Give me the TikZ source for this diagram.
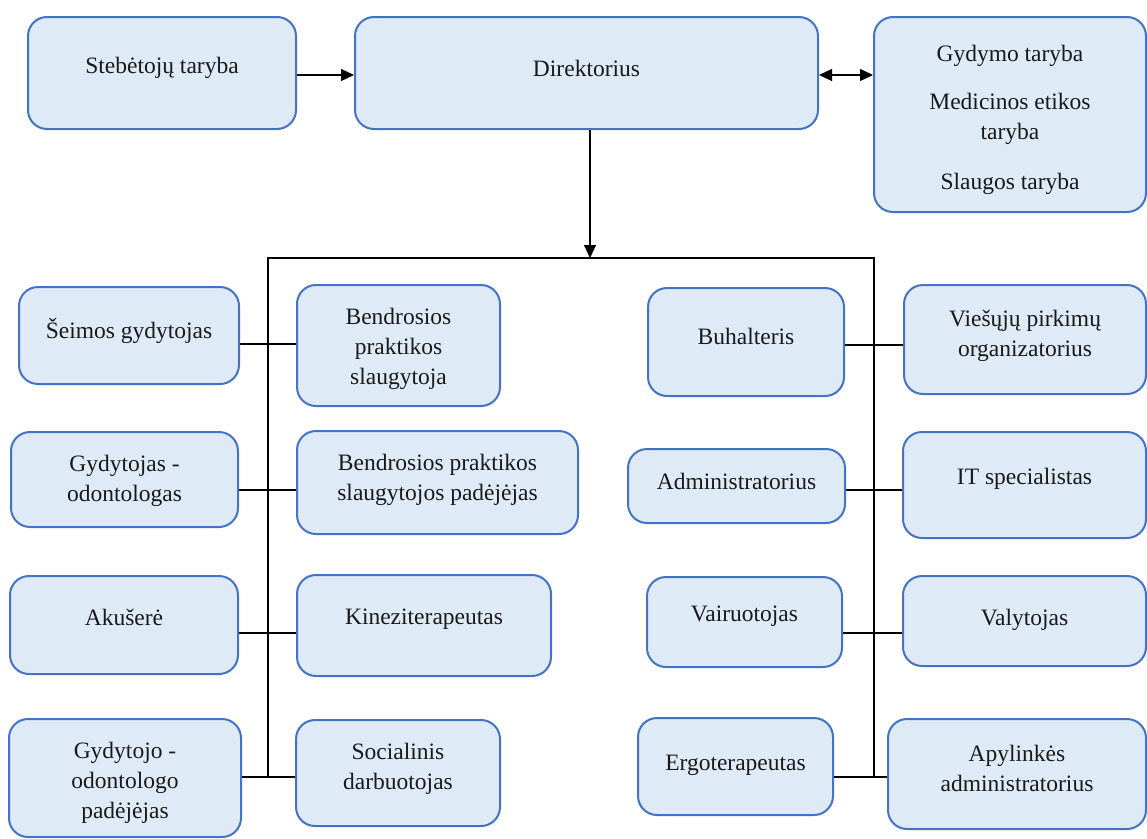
\documentclass[tikz,border=0pt]{standalone}
\usepackage{fontspec}
\setmainfont{Liberation Serif}
\usetikzlibrary{arrows.meta}
\definecolor{boxfill}{HTML}{DEEBF7}
\definecolor{boxline}{HTML}{4472C4}
\tikzset{
  orgbox/.style={draw=boxline, fill=boxfill, line width=2pt, rounded corners=19pt, inner sep=0pt, rectangle},
  orgtext/.style={font=\fontsize{23.5}{30}\selectfont, align=center, inner sep=0pt, text=black!90, yshift=-3pt},
  conn/.style={draw=black, line width=1.2pt},
  tip/.style={-{Triangle[length=13pt,width=12pt]}},
  dtip/.style={{Triangle[length=13pt,width=12pt]}-{Triangle[length=13pt,width=12pt]}}
}
\newcommand\obox[7]{%
  \node[orgbox, minimum width={#4-#2}, minimum height={#5-#3}] (#1) at ({(#2+#4)/2},{(#3+#5)/2}) {};
  \node[orgtext] (#1-t) at ({(#2+#4)/2},#6) {#7};
}
\begin{document}
\begin{tikzpicture}[x=1pt,y=-1pt]
\useasboundingbox (0,0) rectangle (1147,838);
% top row
\obox{steb}{28}{17}{296}{129}{65}{Stebėtojų taryba}
\obox{dir}{355}{17}{818}{129}{65}{Direktorius}
\obox{tar}{874}{17}{1146}{212}{117}{Gydymo taryba\\[18pt]Medicinos etikos\\taryba\\[20pt]Slaugos taryba}
% left columns
\obox{seim}{19}{287}{239}{384}{328}{Šeimos gydytojas}
\obox{bpa}{297}{285}{500}{406}{346}{Bendrosios\\praktikos\\slaugytoja}
\obox{god}{11}{432}{238}{527}{478}{Gydytojas -\\odontologas}
\obox{bpb}{297}{431}{578}{534}{477}{Bendrosios praktikos\\slaugytojos padėjėjas}
\obox{aku}{10}{576}{238}{674}{614}{Akušerė}
\obox{kin}{297}{575}{551}{676}{616}{Kineziterapeutas}
\obox{gop}{9}{719}{241}{837}{780}{Gydytojo -\\odontologo\\padėjėjas}
\obox{soc}{296}{720}{500}{826}{766}{Socialinis\\darbuotojas}
% right columns
\obox{buh}{648}{288}{844}{396}{333}{Buhalteris}
\obox{vie}{904}{285}{1146}{394}{333}{Viešųjų pirkimų\\organizatorius}
\obox{adm}{628}{449}{845}{523}{478}{Administratorius}
\obox{it}{903}{432}{1146}{538}{476}{IT specialistas}
\obox{vai}{647}{577}{842}{667}{613}{Vairuotojas}
\obox{val}{903}{576}{1146}{666}{617}{Valytojas}
\obox{erg}{638}{718}{833}{815}{762}{Ergoterapeutas}
\obox{apy}{888}{719}{1146}{829}{765}{Apylinkės\\administratorius}
% bus coordinates
\coordinate (top) at (590,258);
\coordinate (L0) at (268,258);
\coordinate (R0) at (874,258);
\coordinate (L1) at (268,344);
\coordinate (L2) at (268,490);
\coordinate (L3) at (268,633);
\coordinate (L4) at (268,777);
\coordinate (R1) at (874,345);
\coordinate (R2) at (874,490);
\coordinate (R3) at (874,633);
\coordinate (R4) at (874,777);
\coordinate (ha) at (0,75);
% connectors
\draw[conn,tip] (steb.east |- ha) -- (dir.west |- ha);
\draw[conn,dtip] (dir.east |- ha) -- (tar.west |- ha);
\draw[conn,tip] (dir.south -| top) -- (top);
\draw[conn] (L4) -- (L0) -- (R0) -- (R4);
\draw[conn] (seim.east |- L1) -- (bpa.west |- L1);
\draw[conn] (god.east |- L2) -- (bpb.west |- L2);
\draw[conn] (aku.east |- L3) -- (kin.west |- L3);
\draw[conn] (gop.east |- L4) -- (soc.west |- L4);
\draw[conn] (buh.east |- R1) -- (vie.west |- R1);
\draw[conn] (adm.east |- R2) -- (it.west |- R2);
\draw[conn] (vai.east |- R3) -- (val.west |- R3);
\draw[conn] (erg.east |- R4) -- (apy.west |- R4);
\end{tikzpicture}
\end{document}
